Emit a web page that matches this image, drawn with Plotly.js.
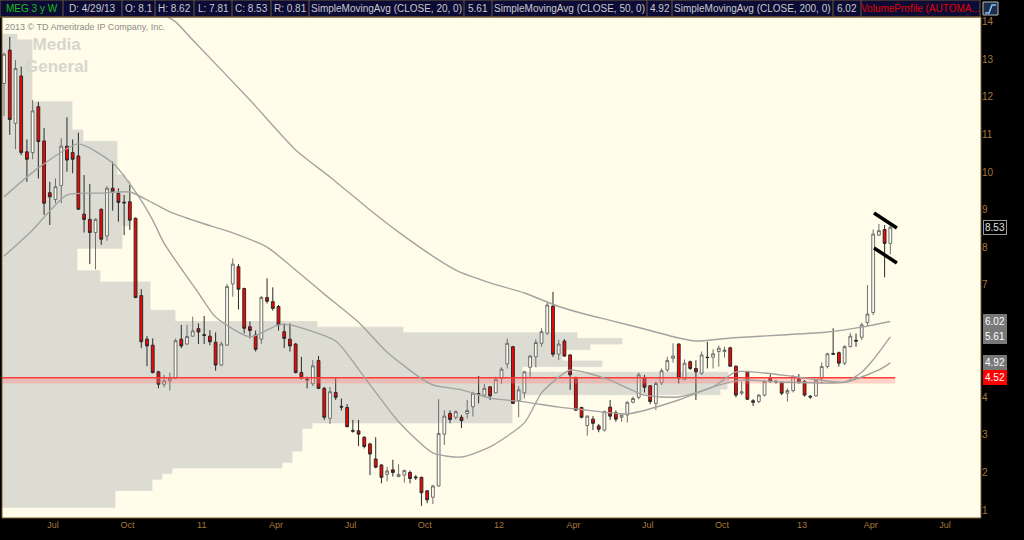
<!DOCTYPE html>
<html><head><meta charset="utf-8">
<script src="https://cdn.plot.ly/plotly-3.0.1.min.js"></script>
<style>html,body{margin:0;padding:0;background:#000;}#chart{width:1024px;height:540px;}</style>
</head><body><div id="chart"></div>
<script>
// ---------- DATA (weekly bars, MEG, May 2010 - Apr 2013) ----------
const firstWeek = [2010, 4, 10]; // Monday 10 May 2010, one bar per week
const open  = [12.36,13.25,11.30,12.56,10.54,10.52,11.74,10.83,9.45,9.27,9.64,10.69,10.52,10.43,8.88,8.74,8.39,9.01,8.30,9.57,9.43,9.20,9.21,8.77,6.71,5.55,5.39,4.68,4.35,4.44,4.51,5.55,5.42,5.63,5.83,5.67,5.63,5.47,4.86,5.39,7.02,7.48,6.90,5.88,5.66,5.55,6.66,6.55,6.42,5.75,5.55,5.42,4.66,4.49,4.36,4.98,4.24,3.44,4.13,3.76,3.73,3.12,3.11,2.94,2.76,2.36,2.20,1.95,2.07,1.89,1.93,2.00,1.88,1.87,1.51,1.34,1.64,3.02,3.57,3.47,3.47,3.57,3.75,4.10,4.06,4.28,4.12,4.51,4.89,5.35,3.91,4.12,4.80,5.08,5.44,5.71,6.43,5.15,5.50,5.13,4.53,3.73,3.25,3.42,3.24,3.13,3.74,3.59,3.47,3.53,3.87,4.00,4.51,4.31,3.84,4.39,4.73,5.04,5.42,4.48,4.95,4.77,4.64,5.07,5.07,5.22,5.22,5.32,4.83,4.11,4.68,3.91,3.89,4.06,4.51,4.43,4.39,4.11,4.18,4.49,4.42,4.03,4.04,4.51,4.82,5.17,5.19,4.91,5.35,5.52,5.60,5.99,6.26,8.32,8.47,8.10];
const high  = [13.18,13.60,12.98,12.81,10.87,11.92,11.87,11.17,9.74,9.83,10.90,11.46,10.87,11.05,9.92,9.68,8.77,9.03,9.63,10.28,9.57,9.39,9.66,8.79,6.88,5.63,5.57,4.71,4.60,4.66,5.57,5.93,5.93,6.15,5.97,6.17,5.79,5.73,5.48,7.02,7.70,7.55,6.92,6.02,5.78,6.70,7.17,6.93,6.46,5.97,5.97,5.45,5.08,4.55,4.99,5.10,4.28,4.28,4.53,3.97,3.82,3.40,3.40,2.96,2.79,2.94,2.22,2.15,2.34,2.22,2.08,2.05,1.93,1.89,1.53,1.67,3.95,3.66,3.65,3.65,3.53,3.93,4.15,4.57,4.36,4.30,4.55,4.80,5.57,5.37,4.30,4.71,5.13,5.55,5.84,6.52,6.81,5.53,5.55,5.15,4.55,3.75,3.52,3.50,3.29,3.65,3.93,3.65,3.57,3.89,4.02,4.66,4.60,4.33,4.42,4.77,5.08,5.44,5.44,5.01,4.98,4.99,5.22,5.48,5.28,5.38,5.35,5.35,4.85,4.42,4.71,3.95,4.09,4.46,4.62,4.46,4.42,4.24,4.60,4.62,4.46,4.06,4.49,4.93,5.19,5.84,5.22,5.39,5.72,5.70,5.99,6.99,8.47,8.62,8.59,8.62];
const low   = [11.49,10.99,10.61,10.45,9.74,10.34,9.83,8.86,8.59,9.17,9.17,10.01,9.97,8.99,8.39,7.55,7.41,8.06,8.17,8.97,8.68,8.32,8.46,6.64,5.31,4.83,4.64,4.24,4.27,4.18,4.49,5.31,5.39,5.62,5.42,5.42,5.39,4.71,4.83,5.37,6.68,6.34,5.70,5.57,5.22,5.42,6.50,6.31,5.78,5.31,5.22,4.64,4.48,4.24,4.30,4.22,3.40,3.29,3.93,3.65,3.20,3.06,2.70,2.64,1.93,2.11,1.71,1.76,1.89,1.87,1.73,1.71,1.80,1.11,1.18,1.16,1.62,2.73,3.31,3.41,3.18,3.44,3.49,3.84,4.00,3.93,4.11,4.36,4.77,3.82,3.47,3.97,4.55,4.80,5.35,5.66,5.08,4.99,5.08,4.20,3.65,3.44,2.98,3.13,3.07,3.09,3.40,3.35,3.35,3.33,3.84,3.95,4.13,3.82,3.66,4.33,4.68,4.92,4.37,4.46,4.73,3.93,4.60,4.77,4.77,4.82,5.06,4.82,4.00,4.06,3.93,3.77,3.84,4.02,4.39,4.37,4.06,3.89,4.13,4.37,4.02,3.96,4.02,4.37,4.77,5.13,4.82,4.86,5.33,5.35,5.53,5.90,6.19,8.30,7.20,7.81];
const close = [13.14,11.40,12.76,10.52,10.34,11.63,10.81,9.17,9.34,9.61,10.69,10.32,10.34,9.01,8.74,8.39,8.74,8.21,9.57,9.48,9.19,9.18,8.72,6.66,5.48,5.37,4.66,4.35,4.44,4.51,5.51,5.37,5.62,5.77,5.74,5.65,5.48,4.86,5.42,6.95,7.55,6.88,5.84,5.78,5.28,6.66,6.56,6.37,5.93,5.57,5.37,4.66,4.51,4.47,4.84,4.24,3.47,4.15,4.00,3.74,3.22,3.10,3.02,2.69,2.49,2.14,1.87,2.04,2.00,1.95,2.05,1.84,1.86,1.46,1.27,1.64,3.04,3.50,3.41,3.62,3.38,3.65,4.11,4.08,4.24,4.04,4.48,4.75,5.44,3.84,4.20,4.68,5.10,5.46,5.75,6.46,5.15,5.42,5.10,4.60,3.66,3.47,3.50,3.31,3.15,3.62,3.50,3.42,3.53,3.87,3.97,4.60,4.27,3.89,4.37,4.71,4.98,5.10,4.51,4.91,4.77,4.68,5.13,5.06,5.16,5.31,5.26,4.83,4.06,4.15,3.95,3.87,4.06,4.42,4.42,4.41,4.11,4.18,4.55,4.39,4.06,4.01,4.46,4.82,5.16,5.15,4.91,5.35,5.63,5.50,5.93,6.22,8.35,8.44,8.10,8.53];

// Simple moving averages (bar index, value)
const sma20Week = [0,6,13,19,23,26,28,34,37,43,48,50,58,63,69,75,80,85,91,94,97,99,102,106,112,118,124,128,133,139,147,150,152,155];
const sma20Val  = [9.34,10.11,10.75,10.24,9.47,8.72,8.10,6.78,6.14,5.61,5.93,5.93,5.50,4.54,3.35,2.52,2.41,2.68,3.32,4.12,4.54,4.73,4.65,4.46,4.06,4.01,4.28,4.68,4.65,4.54,4.41,4.67,5.00,5.61];
const sma50Week = [0,5,11,17,22,26,29,34,40,46,50,56,62,67,73,75,80,85,91,97,102,109,118,124,129,136,147,153,155];
const sma50Val  = [7.76,8.46,9.39,9.44,9.47,9.18,8.94,8.67,8.38,8.00,7.52,6.75,6.00,5.20,4.50,4.33,4.20,3.98,3.88,3.74,3.66,3.56,3.93,4.28,4.46,4.41,4.40,4.73,4.92];
const sma200Week = [28,30,33,43,51,57,64,69,76,79,85,91,97,102,106,112,118,121,127,136,144,150,155];
const sma200Val  = [14.18,14.00,13.52,11.92,10.59,9.87,8.99,8.40,7.66,7.39,7.05,6.78,6.42,6.20,6.05,5.82,5.58,5.50,5.58,5.66,5.74,5.87,6.02];

// Volume profile: price buckets of 0.15 starting at 1.07, relative volume per bucket
const profileLow = 1.07, profileStep = 0.15;
const profileVolume = [113,113,113,150,150,160,170,280,290,290,300,300,300,300,310,510,510,510,510,520,718,725,727,726,520,600,560,560,588,620,575,401,315,173,173,148,148,148,148,148,98,98,75,75,75,75,120,120,120,120,128,128,128,128,128,128,128,128,123,115,115,115,115,115,115,81,81,70,70,70,70,70,30,30,30,30,30,30,30,30,30,30,30,15];
const pocPrice = 4.52;

const priceTicks = [1,2,3,4,7,8,9,10,11,12,13,14];
const monthTickDates = ['2010-07-09','2010-10-08','2011-01-07','2011-04-08','2011-07-08','2011-10-07','2012-01-06','2012-04-06','2012-07-06','2012-10-05','2013-01-11','2013-04-05','2013-07-05'];
const monthTickText  = ['Jul','Oct','11','Apr','Jul','Oct','12','Apr','Jul','Oct','13','Apr','Jul'];

const headerText = ['MEG 3 y W','D: 4/29/13','O: 8.1','H: 8.62','L: 7.81','C: 8.53','R: 0.81','SimpleMovingAvg (CLOSE, 20, 0)','5.61','SimpleMovingAvg (CLOSE, 50, 0)','4.92','SimpleMovingAvg (CLOSE, 200, 0)','6.02','VolumeProfile (AUTOMA...'];
const badgeValues = [8.53, 6.02, 5.61, 4.92, 4.52];

// ---------- helpers ----------
function weekDate(i){
  const d = new Date(Date.UTC(firstWeek[0], firstWeek[1], firstWeek[2]));
  d.setUTCDate(d.getUTCDate() + 7*i);
  return d.toISOString().slice(0,10);
}
const dates = close.map((_, i) => weekDate(i));
const PL = 2, PR = 981, PT = 17, PB = 518;
const px = x => (x - PL) / (PR - PL);
const py = y => (PB - y) / (PB - PT);

const smaStyle = {color:'#a3a3a0', width:1.4, shape:'spline', smoothing:0.6};
const xStart = '2010-05-07 12:00', xEnd = '2013-08-18';
const profColor = '#dcdcd3';

const traces = [
  // volume profile on the base (linear) axis: drawn first, underneath
  {type:'bar', orientation:'h', xaxis:'x', yaxis:'y',
   y: profileVolume.map((_, j) => +(profileLow + profileStep*(j+0.5)).toFixed(3)),
   x: profileVolume, width: profileStep,
   marker:{color:profColor, line:{color:profColor, width:0.8}}, hoverinfo:'skip', showlegend:false},
  // everything dated lives on the overlaying date axis
  {type:'scatter', mode:'lines', xaxis:'x2', x:[xStart,'2013-05-05','2013-05-05',xStart], y:[pocPrice-0.15,pocPrice-0.15,pocPrice,pocPrice],
   fill:'toself', fillcolor:'rgba(255,120,120,0.32)', line:{width:0}, hoverinfo:'skip', showlegend:false},
  {type:'scatter', mode:'lines', xaxis:'x2', x:[xStart,'2013-05-05'], y:[pocPrice,pocPrice],
   line:{color:'#ff3a3a', width:1.5}, hoverinfo:'skip', showlegend:false},
  {type:'scatter', mode:'lines', xaxis:'x2', x: sma200Week.map(weekDate), y: sma200Val, line: smaStyle, showlegend:false},
  {type:'scatter', mode:'lines', xaxis:'x2', x: sma50Week.map(weekDate), y: sma50Val, line: smaStyle, showlegend:false},
  {type:'scatter', mode:'lines', xaxis:'x2', x: sma20Week.map(weekDate), y: sma20Val, line: smaStyle, showlegend:false},
  {type:'candlestick', xaxis:'x2', x: dates, open, high, low, close, whiskerwidth:0,
   increasing:{line:{color:'#6e6e6e', width:1}, fillcolor:'#fbfaee'},
   decreasing:{line:{color:'#2a2a2a', width:1}, fillcolor:'#ff0000'},
   showlegend:false, hoverinfo:'skip'}
];

// ---------- header ----------
const headerEdges = [0,63,122,155,194,232,271,309,464,492,647,672,833,861,980];
const shapes = [];
const annotations = [];
shapes.push({type:'rect', xref:'paper', yref:'paper', x0:px(0), x1:px(980), y0:py(17), y1:py(0), fillcolor:'#0b0b36', line:{color:'#6b5a36', width:1}, layer:'above'});
headerEdges.slice(1,-1).forEach(e => shapes.push({type:'line', xref:'paper', yref:'paper', x0:px(e), x1:px(e), y0:py(17), y1:py(0), line:{color:'#6b5a36', width:1}, layer:'above'}));
headerText.forEach((t, k) => {
  const color = k === 0 ? '#19c019' : (k === headerText.length-1 ? '#e00000' : '#c9c9c9');
  annotations.push({xref:'paper', yref:'paper', x:px((headerEdges[k]+headerEdges[k+1])/2), y:py(8.5), text: t, showarrow:false,
    xanchor:'center', yanchor:'middle', font:{family:'Liberation Sans, Arial, sans-serif', size:10, color}});
});
// settings icon at top right
shapes.push({type:'rect', xref:'paper', yref:'paper', x0:px(983), x1:px(998), y0:py(15), y1:py(2), fillcolor:'#1d2c48', line:{color:'#b8b8b8', width:1}, layer:'above'});
shapes.push({type:'path', xref:'paper', yref:'paper', path:`M ${px(985)} ${py(13)} L ${px(989)} ${py(13)} L ${px(992)} ${py(5)} L ${px(996)} ${py(5)}`, line:{color:'#7fc8ff', width:1.5}, layer:'above'});
// plot frame
shapes.push({type:'rect', xref:'paper', yref:'paper', x0:0, x1:1, y0:0, y1:1, line:{color:'#7a5a30', width:1}, layer:'above'});
// two drawn marker lines near the last bars
shapes.push({type:'line', xref:'x2', yref:'y', x0:'2013-04-09', y0:8.91, x1:'2013-05-07', y1:8.51, line:{color:'#000', width:3.5}});
shapes.push({type:'line', xref:'x2', yref:'y', x0:'2013-04-09', y0:7.98, x1:'2013-05-07', y1:7.58, line:{color:'#000', width:3.5}});

// watermark & copyright
annotations.push({xref:'paper', yref:'paper', x:px(4), y:py(27), xanchor:'left', yanchor:'middle', borderpad:0, text:'2013 © TD Ameritrade IP Company, Inc.', showarrow:false, font:{family:'Liberation Sans, Arial', size:9, color:'#8c8c84'}});
annotations.push({xref:'paper', yref:'paper', x:px(56), y:py(55), xanchor:'center', yanchor:'middle', borderpad:0, align:'center', text:'<b>Media<br>General</b>', showarrow:false, font:{family:'Liberation Sans, Arial', size:17, color:'#d6d6cd'}});

// price badges on right axis
const badgeStyle = [
  {bg:'#000000', border:'#9a9a9a', fg:'#e2e2e2'},
  {bg:'#787878', border:'#787878', fg:'#ffffff'},
  {bg:'#787878', border:'#787878', fg:'#ffffff'},
  {bg:'#787878', border:'#787878', fg:'#ffffff'},
  {bg:'#ff0000', border:'#ff0000', fg:'#ffffff'}
];
badgeValues.forEach((v, k) => annotations.push({xref:'paper', yref:'y', x:1, y:v, xshift:2, xanchor:'left', yanchor:'middle',
  text: v.toFixed(2), showarrow:false, bgcolor:badgeStyle[k].bg, bordercolor:badgeStyle[k].border, borderwidth:1, borderpad:1,
  font:{family:'Liberation Sans, Arial', size:10, color:badgeStyle[k].fg}}));

const layout = {
  width:1024, height:540,
  margin:{l:PL, r:1024-PR, t:PT, b:540-PB, pad:0},
  paper_bgcolor:'#000000', plot_bgcolor:'#fffdea',
  showlegend:false, dragmode:false,
  xaxis:{type:'linear', range:[0, PR-PL], visible:false, showgrid:false, zeroline:false, fixedrange:true},
  xaxis2:{type:'date', overlaying:'x', side:'bottom', anchor:'y', range:[xStart, xEnd], rangeslider:{visible:false}, showgrid:false, zeroline:false,
    tickvals: monthTickDates, ticktext: monthTickText, ticks:'', tickfont:{family:'Liberation Sans, Arial', size:9, color:'#a8783a'}, showline:false},
  yaxis:{side:'right', range:[0.787, 14.13], showgrid:false, zeroline:false, tickvals: priceTicks, ticks:'',
    tickfont:{family:'Liberation Sans, Arial', size:10, color:'#a8783a'}, showline:false},
  shapes, annotations
};
Plotly.newPlot('chart', traces, layout, {staticPlot:true, displayModeBar:false});
</script></body></html>
